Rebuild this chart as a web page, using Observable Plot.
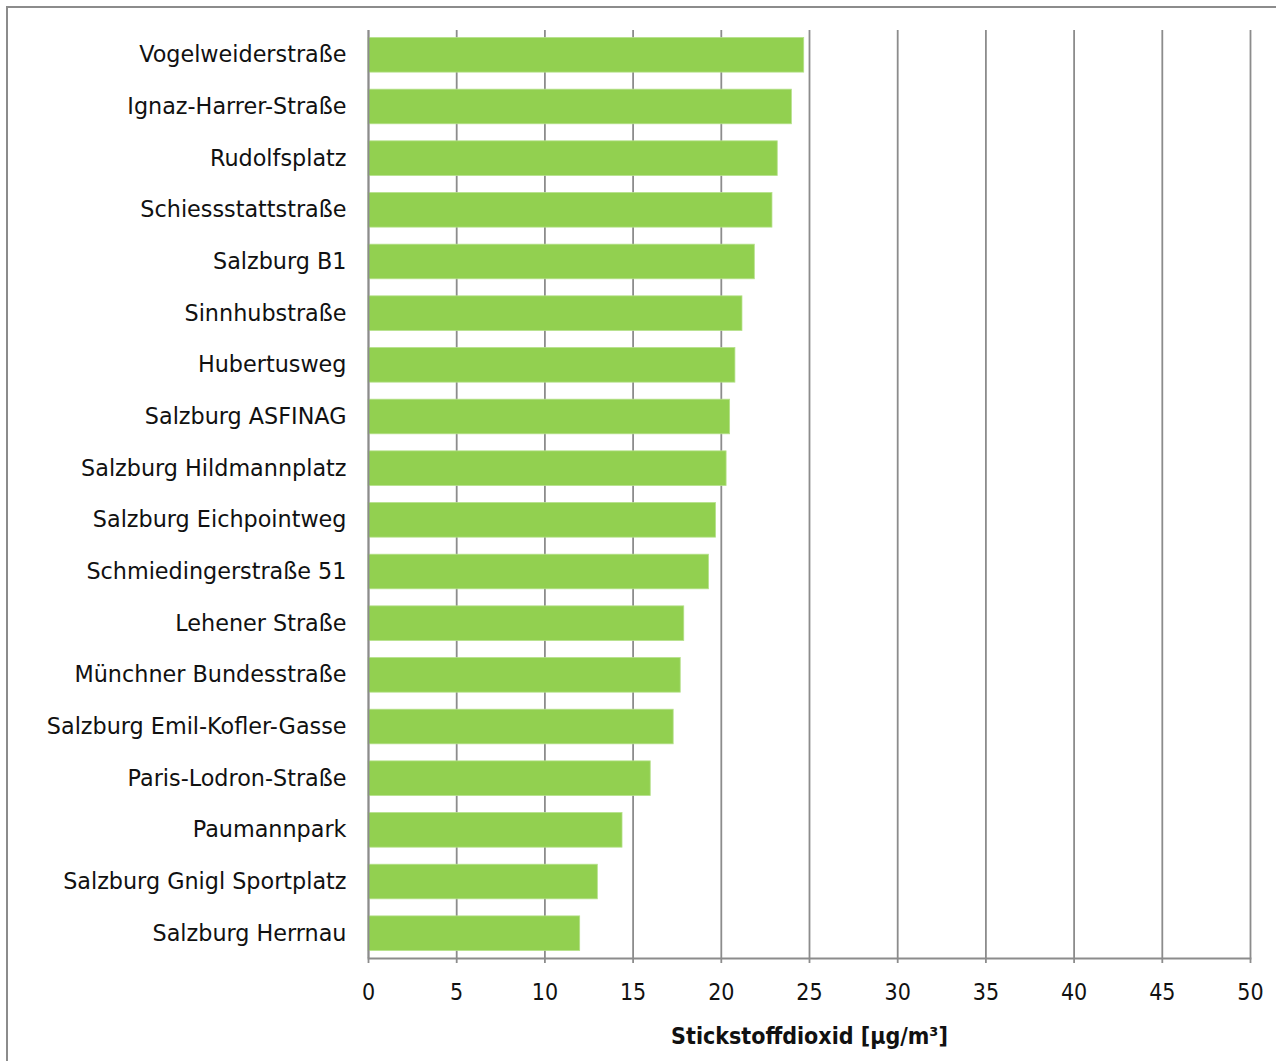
<!DOCTYPE html>
<html>
<head>
<meta charset="utf-8">
<script src="https://cdn.jsdelivr.net/npm/d3@7"></script>
<script src="https://cdn.jsdelivr.net/npm/@observablehq/plot@0.6"></script>
<style>
  html, body { margin: 0; padding: 0; background: #fff; }
  #wrap { position: relative; width: 1276px; height: 1061px; overflow: hidden; }
  #border { position: absolute; left: 6px; top: 6px; width: 1300px; height: 1100px;
            border-left: 2px solid #8c8c8c; border-top: 2px solid #8c8c8c; box-sizing: border-box; }
  #chart { position: absolute; left: 0; top: 0; }
</style>
</head>
<body>
<div id="wrap"><div id="border"></div><div id="chart"></div></div>
<script>
// NO2 annual means per monitoring station (µg/m³), sorted descending
const stations = [
  "Vogelweiderstraße", "Ignaz-Harrer-Straße", "Rudolfsplatz", "Schiessstattstraße",
  "Salzburg B1", "Sinnhubstraße", "Hubertusweg", "Salzburg ASFINAG",
  "Salzburg Hildmannplatz", "Salzburg Eichpointweg", "Schmiedingerstraße 51",
  "Lehener Straße", "Münchner Bundesstraße", "Salzburg Emil-Kofler-Gasse",
  "Paris-Lodron-Straße", "Paumannpark", "Salzburg Gnigl Sportplatz", "Salzburg Herrnau"
];
const no2 = [24.7, 24.0, 23.2, 22.9, 21.9, 21.2, 20.8, 20.5, 20.3, 19.7, 19.3, 17.9, 17.7, 17.3, 16.0, 14.4, 13.0, 12.0];
const xTicks = [0, 5, 10, 15, 20, 25, 30, 35, 40, 45, 50];
const xTitle = "Stickstoffdioxid [µg/m³]";

const data = stations.map((s, i) => ({station: s, value: no2[i]}));

const grid = "#8c8c8c";
const narrow = "DejaVu Sans Condensed, Liberation Sans Narrow, sans-serif";
const chart = Plot.plot({
  width: 1276,
  height: 1061,
  marginLeft: 368,
  marginRight: 26,
  marginTop: 30,
  marginBottom: 103,
  style: {fontFamily: "DejaVu Sans, sans-serif", color: "#111", background: "transparent"},
  x: {domain: [0, 50], ticks: xTicks},
  y: {domain: stations, paddingInner: 0.33, paddingOuter: 0.145, round: false},
  marks: [
    Plot.gridX(xTicks, {stroke: grid, strokeOpacity: 1, strokeWidth: 1.8}),
    Plot.barX(data, {x: "value", y: "station", fill: "#92d050", stroke: "#b5e08a", strokeWidth: 0.8}),
    Plot.ruleX([0], {stroke: grid, strokeWidth: 1.8}),
    Plot.frame({anchor: "bottom", stroke: grid, strokeWidth: 1.8}),
    Plot.axisY({tickSize: 0, tickPadding: 22, fontSize: 22.3, label: null}),
    Plot.axisX(xTicks, {tickSize: 5, stroke: grid, strokeWidth: 1.8, tickPadding: 20, fontSize: 23,
      fontFamily: narrow, label: null}),
    Plot.text([xTitle], {frameAnchor: "bottom", dy: 85, fontSize: 23, fontWeight: "bold",
      fontFamily: narrow, fill: "#111"})
  ]
});
document.getElementById("chart").append(chart);
</script>
</body>
</html>
